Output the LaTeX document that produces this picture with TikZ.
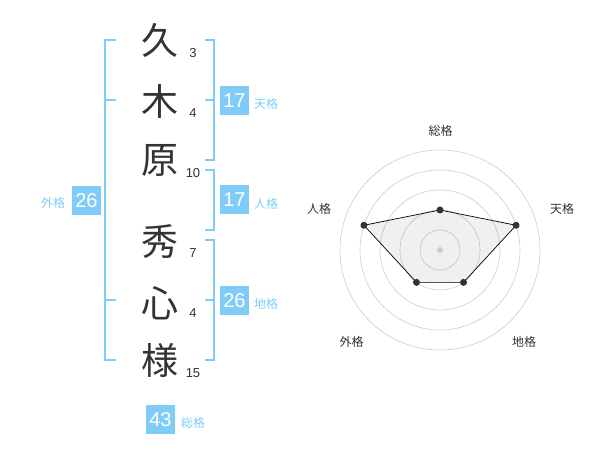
\documentclass[tikz,border=0pt]{standalone}
\usepackage{fontspec}
\setmainfont{Liberation Sans}
\newfontfamily\jp{Noto Sans CJK JP}
\definecolor{kakublue}{HTML}{80CCF8}
\definecolor{inkgray}{HTML}{333333}
\definecolor{ringgray}{HTML}{CCCCCC}
\tikzset{
  kanji/.style={text=inkgray, inner sep=0pt, font=\jp\fontsize{37}{37}\selectfont},
  strokes/.style={text=inkgray, inner sep=0pt, font=\fontsize{13}{13}\selectfont},
  kakubox/.style={fill=kakublue, text=white, minimum size=29pt, inner sep=0pt, font=\fontsize{20}{20}\selectfont},
  kakulabel/.style={text=kakublue, inner sep=0pt, font=\jp\fontsize{12}{12}\selectfont},
  bracket/.style={kakublue, line width=2pt},
  radarlabel/.style={text=inkgray, inner sep=0pt, font=\jp\fontsize{12}{12}\selectfont}
}

\begin{document}
\begin{tikzpicture}[x=1pt,y=-1pt]
\useasboundingbox (0,0) rectangle (600,470);
\draw[bracket] (116,40) -- (105,40) -- (105,360) -- (116,360);
\foreach \y in {100,300}\draw[bracket] (105,\y) -- (116,\y);
\draw[bracket] (205,40) -- (214,40) -- (214,160) -- (205,160);
\draw[bracket] (205,100) -- (214,100);
\draw[bracket] (205,170) -- (214,170) -- (214,230) -- (205,230);
\draw[bracket] (205,240) -- (214,240) -- (214,360) -- (205,360);
\draw[bracket] (205,300) -- (214,300);
\node[kanji] (Kyu) at (160,40) {久};
\node[kanji] (Ki) at (160,101) {木};
\node[kanji] (Hara) at (160,160) {原};
\node[kanji] (Shu) at (160,242) {秀};
\node[kanji] (Shin) at (160,303) {心};
\node[kanji] (Sama) at (160,360) {様};
\node[strokes] (KyuNum) at (193,53) {3};
\node[strokes] (KiNum) at (193,113) {4};
\node[strokes] (HaraNum) at (193,173) {10};
\node[strokes] (ShuNum) at (193,253) {7};
\node[strokes] (ShinNum) at (193,313) {4};
\node[strokes] (SamaNum) at (193,373) {15};
\node[kakubox] (GaiBox) at (86.5,200.5) {26};
\node[kakulabel] (GaiLabel) at (53,203) {外格};
\node[kakubox] (TenBox) at (234.5,100.5) {17};
\node[kakulabel] (TenLabel) at (266,104) {天格};
\node[kakubox] (JinBox) at (234.5,200) {17};
\node[kakulabel] (JinLabel) at (266,203.5) {人格};
\node[kakubox] (ChiBox) at (234.5,300.5) {26};
\node[kakulabel] (ChiLabel) at (266,304) {地格};
\node[kakubox] (SouBox) at (160.5,419.5) {43};
\node[kakulabel] (SouLabel) at (193,423) {総格};
\begin{scope}[shift={(440,250)}, yscale=-1]
\foreach \r in {20,40,60,80,100}\draw[ringgray, line width=0.6pt] (0,0) circle (\r);
\coordinate (Sou) at (90:40);
\coordinate (Ten) at (18:80);
\coordinate (Chi) at (-54:40);
\coordinate (Gai) at (-126:40);
\coordinate (Jin) at (162:80);
\draw[fill=black, fill opacity=0.06, draw opacity=1, line width=0.7pt] (Sou) -- (Ten) -- (Chi) -- (Gai) -- (Jin) -- cycle;
\foreach \p in {Sou,Ten,Chi,Gai,Jin}\fill[inkgray] (\p) circle (3.5);
\fill[ringgray] (0,0) circle (3);
\end{scope}
\node[radarlabel] (Label) at (440.5,130.5) {総格};
\node[radarlabel] (Label) at (562,208.5) {天格};
\node[radarlabel] (Label) at (524,341.5) {地格};
\node[radarlabel] (Label) at (351.5,341.5) {外格};
\node[radarlabel] (Label) at (319,208.5) {人格};
\end{tikzpicture}
\end{document}
